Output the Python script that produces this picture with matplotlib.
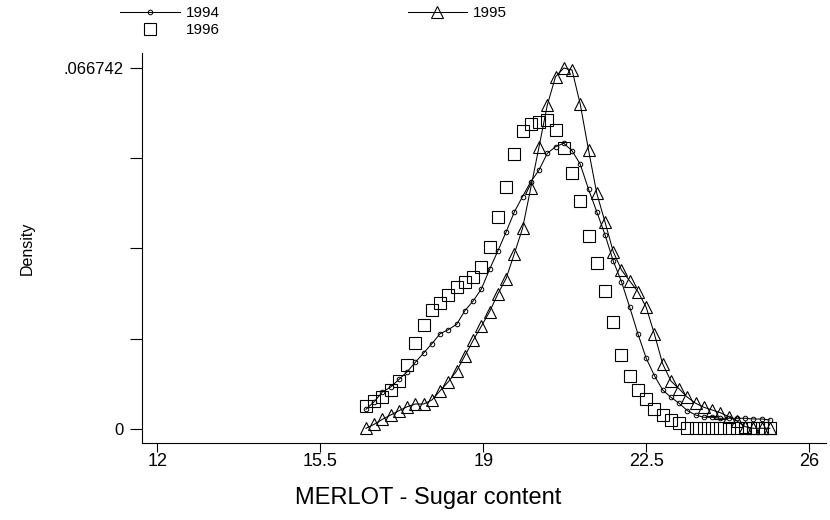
import numpy as np
import matplotlib
matplotlib.use("Agg")
import matplotlib.pyplot as plt

plt.rcParams['font.family'] = ['Liberation Sans', 'DejaVu Sans']

# evaluation grid of the density estimates (sugar content)
sugar = [16.48, 16.657, 16.834, 17.011, 17.188, 17.365, 17.542, 17.719, 17.896, 18.073,
         18.25, 18.427, 18.604, 18.781, 18.958, 19.135, 19.312, 19.489, 19.666, 19.843,
         20.02, 20.197, 20.374, 20.551, 20.728, 20.905, 21.082, 21.259, 21.436, 21.613,
         21.79, 21.967, 22.144, 22.321, 22.498, 22.675, 22.852, 23.029, 23.206, 23.383,
         23.56, 23.737, 23.914, 24.091, 24.268, 24.445, 24.622, 24.799, 24.976, 25.153]

dens_1994 = [0.00364, 0.00505, 0.00684, 0.00777, 0.00915, 0.01059, 0.01235, 0.01405, 0.01577, 0.01762,
             0.01836, 0.01936, 0.02187, 0.02366, 0.02588, 0.02953, 0.03291, 0.03642, 0.04012, 0.04298,
             0.04572, 0.04788, 0.05097, 0.05219, 0.05282, 0.05145, 0.04894, 0.04432, 0.04017, 0.03592,
             0.03106, 0.02723, 0.02250, 0.01756, 0.01307, 0.00985, 0.00721, 0.00586, 0.00475, 0.00338,
             0.00259, 0.00216, 0.00216, 0.00198, 0.00198, 0.00198, 0.00198, 0.00185, 0.00185, 0.00166]

dens_1995 = [0.00013, 0.00087, 0.00179, 0.00259, 0.00338, 0.00412, 0.00462, 0.00462, 0.00536, 0.00708,
             0.00874, 0.01072, 0.01355, 0.01636, 0.01901, 0.02169, 0.02496, 0.02782, 0.03241, 0.03711,
             0.04461, 0.05219, 0.05990, 0.06513, 0.06674, 0.06637, 0.06003, 0.05158, 0.04358, 0.03827,
             0.03278, 0.02940, 0.02736, 0.02538, 0.02250, 0.01751, 0.01202, 0.00887, 0.00740, 0.00586,
             0.00475, 0.00401, 0.00351, 0.00301, 0.00227, 0.00148, 0.00043, 0.00013, 0.00013, 0.00013]

dens_1996 = [0.00425, 0.00523, 0.00597, 0.00721, 0.00887, 0.01183, 0.01581, 0.01917, 0.02195, 0.02333,
             0.02476, 0.02620, 0.02718, 0.02810, 0.02995, 0.03370, 0.03925, 0.04474, 0.05079, 0.05509,
             0.05639, 0.05681, 0.05713, 0.05528, 0.05190, 0.04727, 0.04221, 0.03574, 0.03075, 0.02555,
             0.01984, 0.01368, 0.00980, 0.00721, 0.00560, 0.00361, 0.00259, 0.00172, 0.00105, 0.00013,
             0.00013, 0.00013, 0.00013, 0.00013, 0.00013, 0.00013, 0.00013, 0.00013, 0.00013, 0.00013]

x_ticks = [12, 15.5, 19, 22.5, 26]
x_labels = ['12', '15.5', '19', '22.5', '26']
y_max = 0.066742
y_ticks = [0, y_max / 4, y_max / 2, 3 * y_max / 4, y_max]
y_labels = ['0', '', '', '', '.066742']

fig = plt.figure(figsize=(8.3, 5.2), dpi=100)
ax = fig.add_axes([0.1711, 0.1481, 0.8241, 0.75])

l94, = ax.plot(sugar, dens_1994, color='black', lw=0.75, marker='o', ms=3.3,
               mfc='none', mec='black', mew=0.7)
l95, = ax.plot(sugar, dens_1995, color='black', lw=0.75, marker='^', ms=8,
               mfc='none', mec='black', mew=0.8)
l96, = ax.plot(sugar, dens_1996, color='black', lw=0, marker='s', ms=8.3,
               mfc='none', mec='black', mew=0.8)

ax.set_xlim(11.671, 26.359)
ax.set_ylim(-0.002588, 0.069515)
ax.set_xticks(x_ticks)
ax.set_xticklabels(x_labels, fontsize=13)
ax.set_yticks(y_ticks)
ax.set_yticklabels(y_labels, fontsize=12)
ax.tick_params(axis='x', length=6.5, width=0.8, pad=1)
ax.tick_params(axis='y', length=8.5, width=0.8, pad=5)
for s in ['top', 'right']:
    ax.spines[s].set_visible(False)
for s in ['left', 'bottom']:
    ax.spines[s].set_linewidth(0.8)

fig.text(27 / 830, 0.523, 'Density', rotation=90, ha='center', va='center', fontsize=11.5)
fig.text(428 / 830, 0.0423, 'MERLOT - Sugar content', ha='center', va='center', fontsize=17)

fig.legend([l94, l96, l95], ['1994', '1996', '1995'], ncol=2, loc='upper left',
           bbox_to_anchor=(120 / 830, 1 - 6 / 520), frameon=False, fontsize=11,
           handlelength=3.9, handletextpad=0.4, columnspacing=12.3,
           labelspacing=0.2, borderpad=0, borderaxespad=0)

fig.savefig('out.png', dpi=100)
